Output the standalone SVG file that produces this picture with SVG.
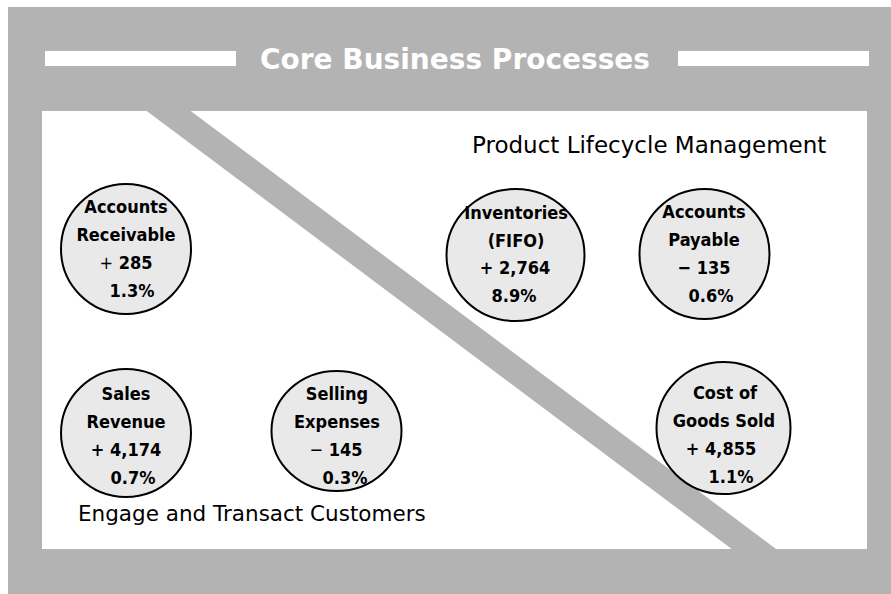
<svg xmlns="http://www.w3.org/2000/svg" width="891" height="594" viewBox="0 0 891 594">
  <style>
    .frame { fill: #b3b3b3; }
    .panel { fill: #ffffff; }
    .bar { fill: #ffffff; }
    .title { font-family: "DejaVu Sans", Verdana, sans-serif; font-weight: bold; font-size: 28px; fill: #ffffff; text-anchor: middle; }
    .area { font-family: "DejaVu Sans", Verdana, sans-serif; font-size: 21.5px; fill: #000000; }
    .bubble { fill: #e9e9e9; stroke: #000000; stroke-width: 2; }
    .lbl { font-family: "DejaVu Sans Condensed", "DejaVu Sans", sans-serif; font-stretch: condensed; font-weight: bold; font-size: 18px; fill: #000000; text-anchor: middle; }
    .thin { font-weight: normal; }
  </style>

  <!-- frame and white work area -->
  <rect class="frame" x="8" y="7" width="883" height="587"/>
  <rect class="panel" x="42" y="111" width="825" height="438"/>

  <!-- diagonal divider band -->
  <polygon class="frame" points="146.7,111 190.7,111 776,549 731.7,549"/>

  <!-- title with side bars -->
  <rect class="bar" x="45" y="51" width="191" height="15"/>
  <rect class="bar" x="678" y="51" width="191" height="15"/>
  <text class="title" x="455" y="69">Core Business Processes</text>

  <!-- area captions -->
  <text class="area" x="472" y="153" style="font-size:23px">Product Lifecycle Management</text>
  <text class="area" x="78" y="521">Engage and Transact Customers</text>

  <g id="accounts-receivable">
    <ellipse class="bubble" cx="126" cy="249" rx="65" ry="65"/>
    <text class="lbl" x="126" y="213">Accounts</text>
    <text class="lbl" x="126" y="241">Receivable</text>
    <text class="lbl" x="126" y="269"><tspan class="thin">+</tspan> 285</text>
    <text class="lbl" x="132" y="297">1.3%</text>
  </g>

  <g id="inventories">
    <ellipse class="bubble" cx="515.5" cy="255" rx="69" ry="66"/>
    <text class="lbl" x="516" y="219">Inventories</text>
    <text class="lbl" x="516" y="247">(FIFO)</text>
    <text class="lbl" x="515" y="274">+ 2,764</text>
    <text class="lbl" x="514" y="302">8.9%</text>
  </g>

  <g id="accounts-payable">
    <ellipse class="bubble" cx="704.5" cy="254" rx="65" ry="65"/>
    <text class="lbl" x="704" y="218">Accounts</text>
    <text class="lbl" x="704" y="246">Payable</text>
    <text class="lbl" x="704" y="274">− 135</text>
    <text class="lbl" x="711" y="302">0.6%</text>
  </g>

  <g id="sales-revenue">
    <ellipse class="bubble" cx="126" cy="433" rx="65" ry="64"/>
    <text class="lbl" x="126" y="400">Sales</text>
    <text class="lbl" x="126" y="428">Revenue</text>
    <text class="lbl" x="126" y="456">+ 4,174</text>
    <text class="lbl" x="133" y="484">0.7%</text>
  </g>

  <g id="selling-expenses">
    <ellipse class="bubble" cx="336.5" cy="431" rx="65" ry="60"/>
    <text class="lbl" x="337" y="400">Selling</text>
    <text class="lbl" x="337" y="428">Expenses</text>
    <text class="lbl" x="336" y="456"><tspan class="thin">−</tspan> 145</text>
    <text class="lbl" x="345" y="484">0.3%</text>
  </g>

  <g id="cost-of-goods-sold">
    <ellipse class="bubble" cx="723.5" cy="428" rx="67" ry="66"/>
    <text class="lbl" x="725" y="399">Cost of</text>
    <text class="lbl" x="724" y="427">Goods Sold</text>
    <text class="lbl" x="721" y="455">+ 4,855</text>
    <text class="lbl" x="731" y="483">1.1%</text>
  </g>

  <g id="connectors"></g>
</svg>
